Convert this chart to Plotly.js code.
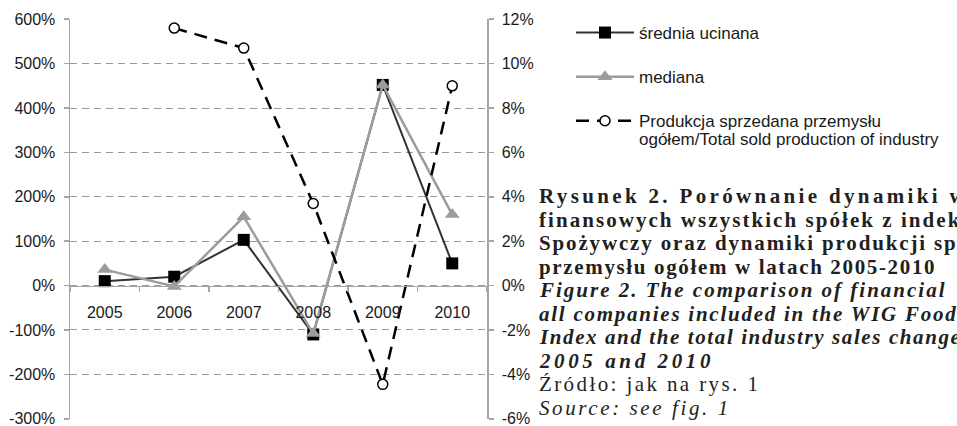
<!DOCTYPE html>
<html>
<head>
<meta charset="utf-8">
<script src="https://cdn.plot.ly/plotly-3.0.1.min.js"></script>
<style>html,body{margin:0;padding:0;background:#fff;}</style>
</head>
<body>
<div id="chart" style="width:957px;height:426px;"></div>
<script>
const years = ['2005', '2006', '2007', '2008', '2009', '2010'];
const sredniaUcinana = [10, 20, 103, -110, 452, 50];
const mediana = [36, -2, 155, -108, 452, 160];
const produkcja = [null, 11.6, 10.7, 3.7, -4.45, 9.0];
const leftTicks = [-300, -200, -100, 0, 100, 200, 300, 400, 500, 600];
const leftTickText = ['-300%', '-200%', '-100%', '0%', '100%', '200%', '300%', '400%', '500%', '600%'];
const rightTicks = [-6, -4, -2, 0, 2, 4, 6, 8, 10, 12];
const rightTickText = ['-6%', '-4%', '-2%', '0%', '2%', '4%', '6%', '8%', '10%', '12%'];
const seriesNames = ['średnia ucinana', 'mediana', 'Produkcja sprzedana przemysłu'];
const seriesNameLine2 = 'ogółem/Total sold production of industry';
const captionLines = [
  {text: '<b>Rysunek 2. Porównanie dynamiki w</b>', ls: 3.35},
  {text: '<b>finansowych wszystkich spółek z indek</b>', ls: 2.05},
  {text: '<b>Spożywczy oraz dynamiki produkcji sp</b>', ls: 1.85},
  {text: '<b>przemysłu ogółem w latach 2005-2010</b>', ls: 1.65},
  {text: '<b><i>Figure 2. The comparison of financial</i></b>', ls: 2.0},
  {text: '<b><i>all companies included in the WIG Food</i></b>', ls: 1.75},
  {text: '<b><i>Index and the total industry sales change</i></b>', ls: 1.6},
  {text: '<b><i>2005 and 2010</i></b>', ls: 3.6},
  {text: 'Źródło: jak na rys. 1', ls: 2.4},
  {text: '<i>Source: see fig. 1</i>', ls: 2.6}
];

const sansFont = 'Liberation Sans';
const plotTop = 19, plotH = 400;
const px2py = (ypx) => (plotTop + plotH - ypx) / plotH;
const px2px = (xpx) => (xpx - 70) / 417;

const annotations = captionLines.map((ln, i) => ({
  xref: 'paper', yref: 'paper', x: px2px(537), y: px2py(196 + i * 23.5),
  xanchor: 'left', yanchor: 'middle', showarrow: false, align: 'left',
  text: '<span style="letter-spacing:' + ln.ls + 'px">' + ln.text + '</span>',
  font: {family: 'Liberation Serif', size: 21, color: '#231f20'}
}));
annotations.push({
  xref: 'paper', yref: 'paper', x: px2px(637), y: px2py(139),
  xanchor: 'left', yanchor: 'middle', showarrow: false, align: 'left',
  text: seriesNameLine2, font: {family: sansFont, size: 17, color: '#1a1a1a'}
});

const traces = [
  {
    x: years, y: sredniaUcinana, name: seriesNames[0], type: 'scatter', mode: 'lines+markers',
    line: {color: '#333333', width: 2},
    marker: {symbol: 'square', size: 12, color: '#000000'},
    legendgroup: 'a'
  },
  {
    x: years, y: mediana, name: seriesNames[1], type: 'scatter', mode: 'lines+markers',
    line: {color: '#9c9c9c', width: 2.5},
    marker: {symbol: 'triangle-up', size: 13, color: '#9c9c9c'},
    legendgroup: 'b'
  },
  {
    x: years, y: produkcja, name: seriesNames[2],
    type: 'scatter', mode: 'lines+markers', yaxis: 'y2',
    line: {color: '#000000', width: 2.5, dash: '13px,8px'},
    marker: {symbol: 'circle', size: 10, color: '#ffffff', line: {color: '#000000', width: 1.5}},
    legendgroup: 'c'
  }
];

const tickFont = {family: sansFont, size: 16, color: '#1a1a1a'};
const layout = {
  width: 957, height: 426,
  margin: {l: 70, r: 470, t: plotTop, b: 426 - plotTop - plotH},
  paper_bgcolor: '#ffffff', plot_bgcolor: '#ffffff',
  font: {family: sansFont, size: 16, color: '#1a1a1a'},
  showlegend: true,
  legend: {
    x: px2px(571), y: 1.01, xanchor: 'left', yanchor: 'top',
    font: {family: sansFont, size: 17, color: '#1a1a1a'},
    tracegroupgap: 19, valign: 'top', bgcolor: 'rgba(0,0,0,0)', itemwidth: 58
  },
  xaxis: {
    type: 'category', range: [-0.5, 5.5], anchor: 'free', position: 1 / 3,
    showline: true, linecolor: '#a6a6a6', linewidth: 1.5,
    ticks: 'outside', tickson: 'boundaries', ticklen: 5, tickcolor: '#a6a6a6', tickwidth: 1.5,
    showgrid: false, ticklabelstandoff: 12,
    tickfont: tickFont
  },
  yaxis: {
    range: [-300.5, 600.5], tickvals: leftTicks, ticktext: leftTickText,
    showline: true, linecolor: '#a6a6a6', linewidth: 1.5,
    ticks: 'outside', ticklen: 5, tickcolor: '#a6a6a6', tickwidth: 1.5,
    showgrid: true, gridcolor: '#9a9a9a', gridwidth: 1, griddash: '7px,5px',
    zeroline: false, ticklabelstandoff: 5, ticklabeloverflow: 'allow',
    tickfont: tickFont
  },
  yaxis2: {
    range: [-6.01, 12.01], tickvals: rightTicks, ticktext: rightTickText, overlaying: 'y', side: 'right',
    showline: true, linecolor: '#a6a6a6', linewidth: 1.5,
    ticks: 'outside', ticklen: 5, tickcolor: '#a6a6a6', tickwidth: 1.5,
    showgrid: false, zeroline: false, ticklabelstandoff: 5, ticklabeloverflow: 'allow',
    tickfont: tickFont
  },
  annotations: annotations
};

Plotly.newPlot('chart', traces, layout, {displayModeBar: false, staticPlot: true});
</script>
</body>
</html>
